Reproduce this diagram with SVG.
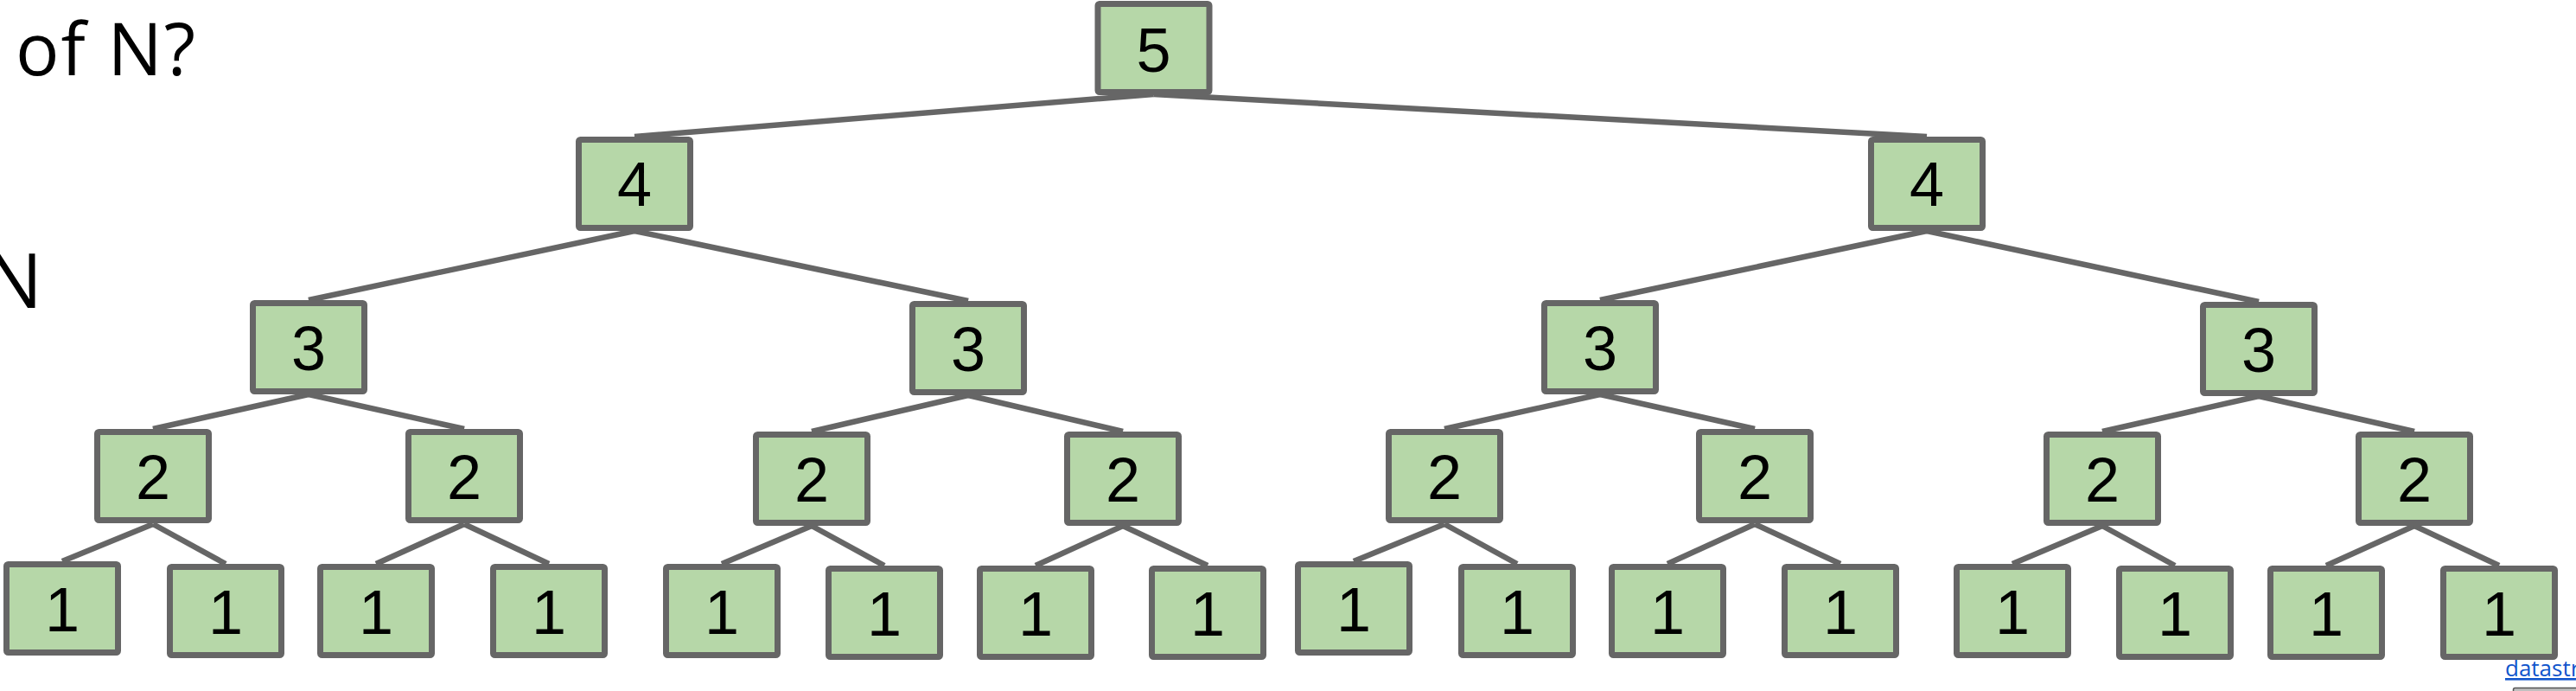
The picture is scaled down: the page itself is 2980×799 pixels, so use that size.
<svg xmlns="http://www.w3.org/2000/svg" width="2980" height="799" viewBox="0 0 2980 799">
<style>
.n rect{fill:#b6d7a8;stroke:#666666;stroke-width:7;}
.n text{font-family:"Liberation Sans",Arial,sans-serif;font-size:72px;fill:#000;text-anchor:middle;}
#connectors line{stroke:#666666;stroke-width:6.5;stroke-linecap:butt;}
.t{font-family:"Open Sans","Liberation Sans",sans-serif;fill:#000;}
</style>
<rect width="2980" height="799" fill="#ffffff"/>
<text class="t" x="18" y="87" font-size="84" letter-spacing="2">of N?</text>
<text class="t" x="49" y="356" font-size="88" text-anchor="end">N</text>
<g id="connectors">
<line x1="1334.5" y1="109" x2="734" y2="158"/>
<line x1="1334.5" y1="109" x2="2229" y2="158"/>
<line x1="734" y1="267" x2="357" y2="347"/>
<line x1="734" y1="267" x2="1120" y2="348"/>
<line x1="2229" y1="267" x2="1851" y2="347"/>
<line x1="2229" y1="267" x2="2613" y2="349"/>
<line x1="357" y1="456" x2="177" y2="496"/>
<line x1="357" y1="456" x2="537" y2="496"/>
<line x1="1120" y1="457" x2="939" y2="499"/>
<line x1="1120" y1="457" x2="1299" y2="499"/>
<line x1="1851" y1="456" x2="1671" y2="496"/>
<line x1="1851" y1="456" x2="2030" y2="496"/>
<line x1="2613" y1="458" x2="2432" y2="499"/>
<line x1="2613" y1="458" x2="2793" y2="499"/>
<line x1="177" y1="606" x2="72" y2="649"/>
<line x1="177" y1="606" x2="261" y2="652"/>
<line x1="537" y1="606" x2="435" y2="652"/>
<line x1="537" y1="606" x2="635" y2="652"/>
<line x1="939" y1="608" x2="835" y2="652"/>
<line x1="939" y1="608" x2="1023" y2="654"/>
<line x1="1299" y1="608" x2="1198" y2="654"/>
<line x1="1299" y1="608" x2="1397" y2="654"/>
<line x1="1671" y1="606" x2="1566" y2="649"/>
<line x1="1671" y1="606" x2="1755" y2="652"/>
<line x1="2030" y1="606" x2="1929" y2="652"/>
<line x1="2030" y1="606" x2="2129" y2="652"/>
<line x1="2432" y1="608" x2="2328" y2="652"/>
<line x1="2432" y1="608" x2="2516" y2="654"/>
<line x1="2793" y1="608" x2="2691" y2="654"/>
<line x1="2793" y1="608" x2="2891" y2="654"/>
</g>
<g id="n5" class="n"><rect x="1270" y="4.5" width="129" height="102" rx="2"/><text x="1334.5" y="83">5</text></g>
<g id="n4a" class="n"><rect x="669.5" y="161.5" width="129" height="102" rx="2"/><text x="734" y="238">4</text></g>
<g id="n4b" class="n"><rect x="2164.5" y="161.5" width="129" height="102" rx="2"/><text x="2229" y="238">4</text></g>
<g id="n3a" class="n"><rect x="292.5" y="350.5" width="129" height="102" rx="2"/><text x="357" y="428">3</text></g>
<g id="n3b" class="n"><rect x="1055.5" y="351.5" width="129" height="102" rx="2"/><text x="1120" y="429">3</text></g>
<g id="n3c" class="n"><rect x="1786.5" y="350.5" width="129" height="102" rx="2"/><text x="1851" y="428">3</text></g>
<g id="n3d" class="n"><rect x="2548.5" y="352.5" width="129" height="102" rx="2"/><text x="2613" y="430">3</text></g>
<g id="n2a" class="n"><rect x="112.5" y="499.5" width="129" height="102" rx="2"/><text x="177" y="577">2</text></g>
<g id="n2b" class="n"><rect x="472.5" y="499.5" width="129" height="102" rx="2"/><text x="537" y="577">2</text></g>
<g id="n2c" class="n"><rect x="874.5" y="502.5" width="129" height="102" rx="2"/><text x="939" y="580">2</text></g>
<g id="n2d" class="n"><rect x="1234.5" y="502.5" width="129" height="102" rx="2"/><text x="1299" y="580">2</text></g>
<g id="n2e" class="n"><rect x="1606.5" y="499.5" width="129" height="102" rx="2"/><text x="1671" y="577">2</text></g>
<g id="n2f" class="n"><rect x="1965.5" y="499.5" width="129" height="102" rx="2"/><text x="2030" y="577">2</text></g>
<g id="n2g" class="n"><rect x="2367.5" y="502.5" width="129" height="102" rx="2"/><text x="2432" y="580">2</text></g>
<g id="n2h" class="n"><rect x="2728.5" y="502.5" width="129" height="102" rx="2"/><text x="2793" y="580">2</text></g>
<g id="n1a" class="n"><rect x="7.5" y="652.5" width="129" height="102" rx="2"/><text x="72" y="730">1</text></g>
<g id="n1b" class="n"><rect x="196.5" y="655.5" width="129" height="102" rx="2"/><text x="261" y="733">1</text></g>
<g id="n1c" class="n"><rect x="370.5" y="655.5" width="129" height="102" rx="2"/><text x="435" y="733">1</text></g>
<g id="n1d" class="n"><rect x="570.5" y="655.5" width="129" height="102" rx="2"/><text x="635" y="733">1</text></g>
<g id="n1e" class="n"><rect x="770.5" y="655.5" width="129" height="102" rx="2"/><text x="835" y="733">1</text></g>
<g id="n1f" class="n"><rect x="958.5" y="657.5" width="129" height="102" rx="2"/><text x="1023" y="735">1</text></g>
<g id="n1g" class="n"><rect x="1133.5" y="657.5" width="129" height="102" rx="2"/><text x="1198" y="735">1</text></g>
<g id="n1h" class="n"><rect x="1332.5" y="657.5" width="129" height="102" rx="2"/><text x="1397" y="735">1</text></g>
<g id="n1i" class="n"><rect x="1501.5" y="652.5" width="129" height="102" rx="2"/><text x="1566" y="730">1</text></g>
<g id="n1j" class="n"><rect x="1690.5" y="655.5" width="129" height="102" rx="2"/><text x="1755" y="733">1</text></g>
<g id="n1k" class="n"><rect x="1864.5" y="655.5" width="129" height="102" rx="2"/><text x="1929" y="733">1</text></g>
<g id="n1l" class="n"><rect x="2064.5" y="655.5" width="129" height="102" rx="2"/><text x="2129" y="733">1</text></g>
<g id="n1m" class="n"><rect x="2263.5" y="655.5" width="129" height="102" rx="2"/><text x="2328" y="733">1</text></g>
<g id="n1n" class="n"><rect x="2451.5" y="657.5" width="129" height="102" rx="2"/><text x="2516" y="735">1</text></g>
<g id="n1o" class="n"><rect x="2626.5" y="657.5" width="129" height="102" rx="2"/><text x="2691" y="735">1</text></g>
<g id="n1p" class="n"><rect x="2826.5" y="657.5" width="129" height="102" rx="2"/><text x="2891" y="735">1</text></g>
<text x="2898" y="782" font-family="Open Sans,'Liberation Sans',sans-serif" font-size="26" fill="#1155cc" text-decoration="underline">datastr</text>
<rect x="2907.5" y="795.5" width="100" height="20" rx="2" fill="#c0c0c0" stroke="#555555" stroke-width="1.5"/>
</svg>
